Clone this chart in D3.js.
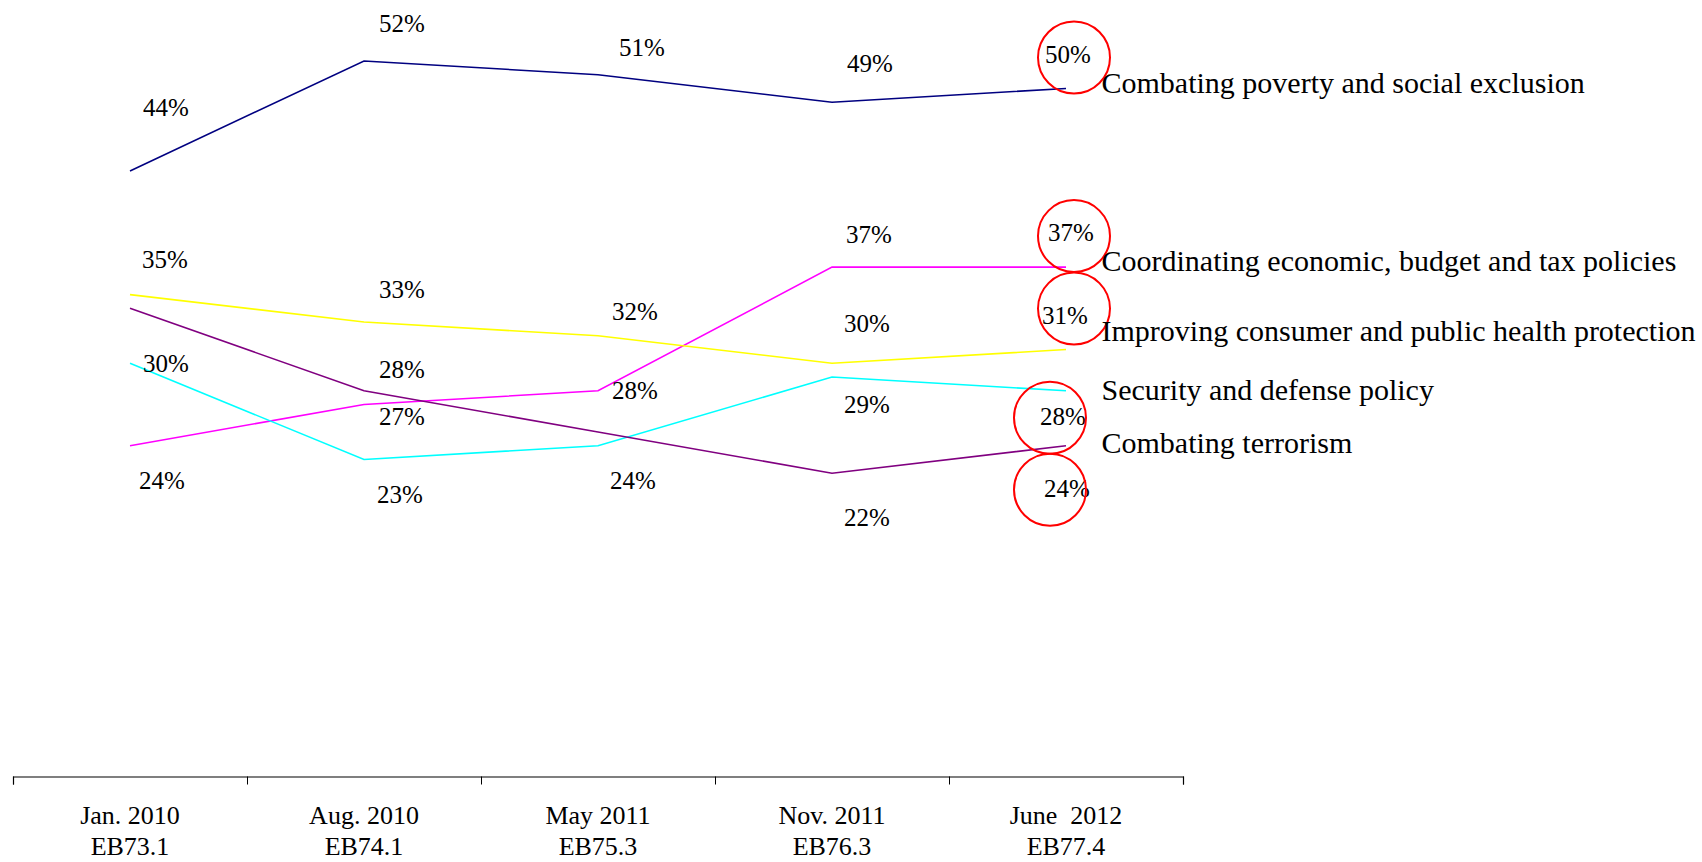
<!DOCTYPE html>
<html>
<head>
<meta charset="utf-8">
<script src="https://cdn.jsdelivr.net/npm/d3@7"></script>
<style>
  html, body { margin: 0; padding: 0; background: #ffffff; }
  svg { display: block; }
  text { font-family: "Liberation Serif", "Times New Roman", serif; fill: #000; }
</style>
</head>
<body>
<svg id="chart" width="1702" height="862"></svg>
<script>
// ---- data ----
const periods = ["Jan. 2010", "Aug. 2010", "May 2011", "Nov. 2011", "June  2012"];
const waves = ["EB73.1", "EB74.1", "EB75.3", "EB76.3", "EB77.4"];
const seriesNames = [
  "Combating poverty and social exclusion",
  "Coordinating economic, budget and tax policies",
  "Improving consumer and public health protection",
  "Security and defense policy",
  "Combating terrorism"
];
const poverty   = [44, 52, 51, 49, 50];
const economic  = [24, 27, 28, 37, 37];
const consumer  = [35, 33, 32, 30, 31];
const security  = [30, 23, 24, 29, 28];
const terrorism = [34, 28, 25, 22, 24];
// which data labels are shown (hidden ones were not printed in the original)
const labelShown = [
  [1, 1, 1, 1, 1],
  [1, 1, 1, 1, 1],
  [1, 1, 1, 1, 1],
  [1, 1, 1, 1, 1],
  [0, 1, 0, 1, 1]
];

// ---- layout (positions / styles, separate from data) ----
const colors = ["#000080", "#ff00ff", "#ffff00", "#00ffff", "#800080"];
const labelDx = [
  [36, 38, 44, 38, 2],
  [32, 38, 37, 37, 5],
  [35, 38, 37, 35, -1],
  [36, 36, 35, 35, -3],
  [0, 38, 0, 35, 1]
];
const labelDy = [
  [-55, -29, -19, -30, -25],
  [43, 20, 8, -24, -26],
  [-27, -24, -16, -31, -26],
  [9, 44, 43, 36, 34],
  [0, -13, 0, 53, 51]
];
const circleOff = [[8, -31], [8, -31], [8, -41], [-16, 27], [-16, 44]];
const legendDy = [5, 4, -9, 9, 7];

const values = [poverty, economic, consumer, security, terrorism];

const svg = d3.select("#chart");
svg.append("rect").attr("width", 1702).attr("height", 862).attr("fill", "#fff");

const x = d3.scaleBand().domain(periods).range([13, 1183]).padding(0);
const cx = p => x(p) + x.bandwidth() / 2;
const y = d3.scaleLinear().domain([0, 52]).range([775.5, 61]);

// axis with ticks at category boundaries
const xb = d3.scaleLinear().domain([0, periods.length]).range([13, 1183]);
const axisG = svg.append("g").attr("transform", "translate(0,776.5)")
  .call(d3.axisBottom(xb).tickValues(d3.range(periods.length + 1))
    .tickSize(8).tickSizeOuter(8).tickFormat(""));
axisG.select(".domain").attr("stroke", "#000").attr("stroke-width", 1.2);
axisG.selectAll(".tick line").attr("stroke", "#000").attr("stroke-width", 1);

// category labels
const catG = svg.append("g");
periods.forEach((p, i) => {
  catG.append("text").attr("x", cx(p)).attr("y", 824).attr("text-anchor", "middle")
    .attr("font-size", 26).style("white-space", "pre").text(p);
  catG.append("text").attr("x", cx(p)).attr("y", 855).attr("text-anchor", "middle")
    .attr("font-size", 26).text(waves[i]);
});

// lines
const line = d3.line().x((d, i) => cx(periods[i])).y(d => y(d));
values.forEach((vals, s) => {
  svg.append("path").datum(vals).attr("d", line)
    .attr("fill", "none").attr("stroke", colors[s]).attr("stroke-width", 1.6)
    .attr("stroke-linejoin", "miter");
});

// data labels
values.forEach((vals, s) => {
  vals.forEach((v, i) => {
    if (!labelShown[s][i]) return;
    svg.append("text")
      .attr("x", cx(periods[i]) + labelDx[s][i])
      .attr("y", y(v) + labelDy[s][i])
      .attr("text-anchor", "middle").attr("font-size", 25)
      .text(v + "%");
  });
});

// red highlight circles around the latest values
const last = periods.length - 1;
values.forEach((vals, s) => {
  svg.append("circle")
    .attr("cx", cx(periods[last]) + circleOff[s][0])
    .attr("cy", y(vals[last]) + circleOff[s][1])
    .attr("r", 36).attr("fill", "none").attr("stroke", "#ff0000").attr("stroke-width", 2);
});

// series names at line ends
values.forEach((vals, s) => {
  svg.append("text")
    .attr("x", cx(periods[last]) + 35.5)
    .attr("y", y(vals[last]) + legendDy[s])
    .attr("font-size", 30)
    .text(seriesNames[s]);
});
</script>
</body>
</html>
